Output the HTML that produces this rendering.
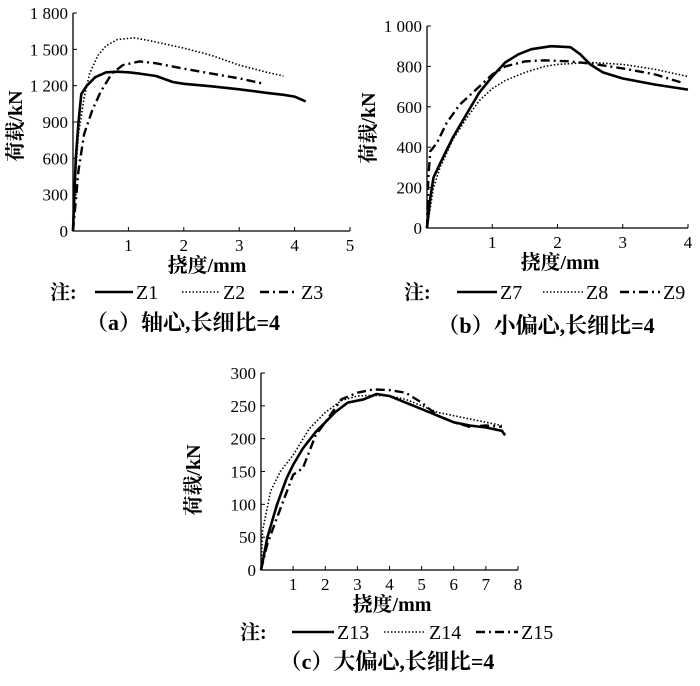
<!DOCTYPE html>
<html><head><meta charset="utf-8"><style>
body{margin:0;background:#fff}
svg text{font-family:"Liberation Serif","Noto Serif CJK SC",serif;fill:#000}
</style></head><body>
<svg id="s" width="700" height="681" viewBox="0 0 700 681"></svg>
<script>
// Panel (a)
const aXTicks=[1,2,3,4,5];
const aYTicks=[0,300,600,900,1200,1500,1800];
const aYLabels=["0","300","600","900","1 200","1 500","1 800"];
const z1=[[0,0],[0.05,600],[0.1,900],[0.15,1130],[0.25,1200],[0.4,1270],[0.6,1310],[0.8,1315],[1.0,1310],[1.2,1300],[1.5,1280],[1.8,1230],[2.0,1215],[2.5,1195],[3.0,1170],[3.5,1140],[3.8,1125],[4.0,1110],[4.2,1070]];
const z2=[[0,0],[0.05,500],[0.1,800],[0.2,1100],[0.3,1300],[0.45,1450],[0.6,1530],[0.8,1580],[1.1,1595],[1.4,1570],[2.0,1510],[2.5,1450],[3.0,1370],[3.5,1310],[3.8,1280]];
const z3=[[0,0],[0.05,250],[0.1,500],[0.2,800],[0.35,1000],[0.5,1150],[0.7,1300],[0.9,1370],[1.2,1400],[1.5,1385],[2.0,1340],[2.5,1300],[3.0,1260],[3.4,1220]];
// Panel (b)
const bXTicks=[1,2,3,4];
const bYTicks=[0,200,400,600,800,1000];
const bYLabels=["0","200","400","600","800","1 000"];
const z7=[[0,0],[0.05,150],[0.1,250],[0.2,320],[0.4,450],[0.6,560],[0.8,670],[1.0,750],[1.2,820],[1.4,860],[1.6,885],[1.9,900],[2.2,895],[2.35,860],[2.5,810],[2.7,770],[3.0,740],[3.5,710],[4.0,685]];
const z8=[[0,0],[0.05,100],[0.1,200],[0.2,300],[0.4,440],[0.6,540],[0.8,630],[1.0,690],[1.2,730],[1.5,770],[1.8,800],[2.0,810],[2.5,820],[3.0,810],[3.5,785],[4.0,750]];
const z9=[[0,0],[0.02,250],[0.05,380],[0.15,420],[0.3,520],[0.5,610],[0.8,700],[1.0,760],[1.2,800],[1.5,825],[1.8,830],[2.2,825],[2.6,810],[3.0,790],[3.5,760],[3.9,720]];
// Panel (c)
const cXTicks=[1,2,3,4,5,6,7,8];
const cYTicks=[0,50,100,150,200,250,300];
const cYLabels=["0","50","100","150","200","250","300"];
const z13=[[0,0],[0.2,50],[0.5,100],[0.8,140],[1,160],[1.3,185],[1.7,210],[2,225],[2.3,240],[2.7,255],[3.2,260],[3.6,268],[4,265],[4.5,255],[5,245],[5.5,235],[6,225],[6.5,220],[7,217],[7.5,212],[7.6,205]];
const z14=[[0,0],[0.05,60],[0.3,120],[0.6,150],[1,175],[1.5,215],[2,240],[2.5,258],[3,265],[3.5,266],[4,265],[4.5,260],[5,250],[5.5,240],[6,235],[7,225],[7.5,220]];
const z15=[[0,0],[0.2,40],[0.5,80],[1,145],[1.3,155],[1.7,205],[2,225],[2.5,260],[3,270],[3.5,275],[4,274],[4.5,270],[5,255],[5.5,235],[6,225],[6.5,218],[7,220],[7.5,218]];

const NS="http://www.w3.org/2000/svg";
const svg=document.getElementById('s');
function mk(tag,attrs,parent){const e=document.createElementNS(NS,tag);for(const k in attrs)e.setAttribute(k,attrs[k]);(parent||svg).appendChild(e);return e;}
const styles={solid:{w:2.6,d:""},dot:{w:1.6,d:"1.5 2"},dash:{w:2.4,d:"9 4 2 4"}};
function panel(p){
  const g=mk('g',{});
  
  
  const sx=v=>p.x0+(v/p.xmax)*(p.x1-p.x0);
  const sy=v=>p.y0-(v/p.ymax)*(p.y0-p.y1);
  const ax=mk('path',{d:`M${p.x0} ${p.y1}V${p.y0}H${p.x1}`,stroke:'#000','stroke-width':1.3,fill:'none'},g);
  
  
  p.yt.forEach((v,i)=>{
    mk('line',{x1:p.x0,x2:p.x0+4,y1:sy(v),y2:sy(v),stroke:'#000','stroke-width':1},g);
    const t=mk('text',{x:p.x0-5,y:sy(v)+6,'text-anchor':'end','font-size':17},g);
    t.textContent=p.yl[i];
    
    
  });
  p.xt.forEach(v=>{
    mk('line',{x1:sx(v),x2:sx(v),y1:p.y0,y2:p.y0-4,stroke:'#000','stroke-width':1},g);
    const t=mk('text',{x:sx(v),y:p.y0+20,'text-anchor':'middle','font-size':17},g);
    t.textContent=v;
    
    
  });
  const xt=mk('text',{x:p.xtx,y:p.y0+41,'text-anchor':'middle','font-size':20,'font-weight':'bold'},g);
  xt.textContent='挠度/mm';
  
  
  const yt=mk('text',{x:0,y:0,'text-anchor':'middle','font-size':20,'font-weight':'bold',transform:`translate(${p.ytx},${p.yty}) rotate(-90)`},g);
  yt.textContent='荷载/kN';
  
  
  p.series.forEach(s=>{
    const d=s.data.map((q,i)=>(i?'L':'M')+sx(q[0]).toFixed(1)+' '+sy(q[1]).toFixed(1)).join('');
    const st=styles[s.st];
    const l=mk('path',{d,stroke:'#000','stroke-width':st.w,fill:'none','stroke-dasharray':st.d,'stroke-linejoin':'round'},g);
    
    
  });
  const lg=mk('g',{},g);
  
  
  const n=mk('text',{x:p.lx,y:p.ly+7,'font-size':20,'font-weight':'bold'},lg);
  n.textContent='注:';
  p.series.forEach((s,i)=>{
    const x=p.lpos[i];const st=styles[s.st];
    mk('line',{x1:x,x2:x+p.llen,y1:p.ly,y2:p.ly,stroke:'#000','stroke-width':st.w,'stroke-dasharray':st.d},lg);
    const t=mk('text',{x:x+p.llen+3,y:p.ly+7,'font-size':20},lg);
    t.textContent=s.n;
    
    
  });
  const c=mk('text',{x:p.cx,y:p.cy,'text-anchor':'middle','font-size':22,'font-weight':'bold'},g);
  c.textContent=p.cap;
  
  
}
panel({name:'panel-a',x0:73,x1:350,y0:231,y1:13,xmax:5,ymax:1800,xt:aXTicks,yt:aYTicks,yl:aYLabels,xtx:207,ytx:22,yty:126,
  series:[{n:'Z1',data:z1,st:'solid'},{n:'Z2',data:z2,st:'dot'},{n:'Z3',data:z3,st:'dash'}],
  lx:50,ly:292,lpos:[95,182,260],llen:38,cx:183,cy:330,cap:'（a）轴心,长细比=4'});
panel({name:'panel-b',x0:427,x1:688,y0:228,y1:26,xmax:4,ymax:1000,xt:bXTicks,yt:bYTicks,yl:bYLabels,xtx:560,ytx:375,yty:128,
  series:[{n:'Z7',data:z7,st:'solid'},{n:'Z8',data:z8,st:'dot'},{n:'Z9',data:z9,st:'dash'}],
  lx:404,ly:292,lpos:[457,543,620],llen:40,cx:546,cy:333,cap:'（b）小偏心,长细比=4'});
panel({name:'panel-c',x0:261,x1:518,y0:570,y1:373,xmax:8,ymax:300,xt:cXTicks,yt:cYTicks,yl:cYLabels,xtx:392,ytx:200,yty:480,
  series:[{n:'Z13',data:z13,st:'solid'},{n:'Z14',data:z14,st:'dot'},{n:'Z15',data:z15,st:'dash'}],
  lx:240,ly:632,lpos:[292,384,476],llen:42,cx:387,cy:669,cap:'（c）大偏心,长细比=4'});
</script>
</body></html>
